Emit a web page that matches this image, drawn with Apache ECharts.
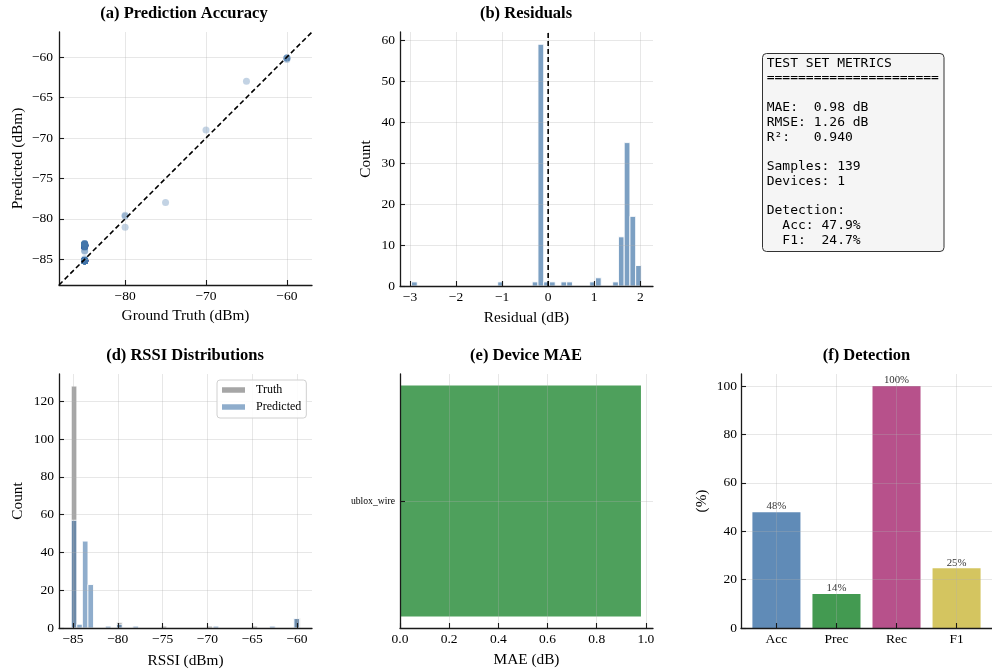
<!DOCTYPE html>
<html>
<head>
<meta charset="utf-8">
<script src="https://cdn.jsdelivr.net/npm/echarts@6/dist/echarts.min.js"></script>
<style>
  html, body { margin: 0; padding: 0; background: #fff; }
  #chart { width: 992px; height: 671px; }
</style>
</head>
<body>
<div id="chart"></div>
<script>
// ---------- data ----------
// (a) test samples: [ground truth dBm, predicted dBm, number of samples]
const accuracyPoints = [
  [-85, -85.17, 55], [-85, -85.04, 1], [-85, -84.92, 1], [-85, -84.0, 1], [-85, -83.92, 1],
  [-85, -83.54, 1], [-85, -83.42, 12], [-85, -83.30, 33], [-85, -83.26, 2], [-85, -83.17, 17], [-85, -83.05, 4],
  [-80, -79.67, 1], [-80, -79.54, 1], [-80, -81.04, 1],
  [-75, -77.97, 1], [-70, -69.0, 1], [-65, -63.0, 1],
  [-60, -60.12, 4], [-60, -60.30, 1]
];
const accuracyLimits = [-88.17, -56.9];

// (b) residual histogram (predicted - truth)
const residualCenters = [-2.905, -1.033, -0.284, -0.159, -0.035, 0.090, 0.340, 0.465, 0.964, 1.089, 1.463, 1.588, 1.713, 1.838, 1.962];
const residualCounts  = [1, 1, 1, 59, 1, 1, 1, 1, 1, 2, 1, 12, 35, 17, 5];
const residualBinWidth = 0.1248;

// (d) RSSI distributions
const rssiBinWidth = 0.63;
const truthCenters = [-84.88, -79.82, -74.85, -69.75, -64.72, -59.95];
const truthCounts  = [128, 3, 1, 1, 1, 5];
const predCenters  = [-84.88, -84.26, -83.64, -83.02, -81.07, -79.82, -78.0, -69.05, -62.75, -60.05];
const predCounts   = [57, 2, 46, 23, 1, 2, 1, 1, 1, 5];

// (e) per-device MAE
const deviceNames = ['ublox_wire'];
const deviceMae   = [0.98];

// (f) detection metrics (%)
const metricNames  = ['Acc', 'Prec', 'Rec', 'F1'];
const metricValues = [47.9, 14.1, 100, 24.7];

// (c) summary text
const metricsText = [
  'TEST SET METRICS',
  '======================',
  '',
  'MAE:  0.98 dB',
  'RMSE: 1.26 dB',
  'R\u00b2:   0.940',
  '',
  'Samples: 139',
  'Devices: 1',
  '',
  'Detection:',
  '  Acc: 47.9%',
  '  F1:  24.7%'
];

// ---------- styling helpers ----------
const SERIF = '"Liberation Serif", "Times New Roman", serif';
const GRID_COLOR = 'rgba(176,176,176,0.3)';
const minus = v => String(v).replace('-', '\u2212');

function valueAxis(gridIndex, min, max, ticks, extra) {
  const e = extra || {};
  return {
    type: 'value', gridIndex, min, max, z: 3,
    name: e.name || '', nameLocation: 'middle', nameGap: e.nameGap || 24,
    nameTextStyle: { fontFamily: SERIF, fontSize: 15.3, color: '#000' },
    axisLine: { show: true, onZero: false, lineStyle: { color: '#1a1a1a', width: 1.3 } },
    axisTick: { show: true, inside: true, length: 5, customValues: ticks, lineStyle: { color: '#1a1a1a', width: 1.1 } },
    axisLabel: {
      customValues: ticks, margin: e.margin || 4,
      fontFamily: SERIF, fontSize: e.labelSize || 13.5, color: '#000',
      formatter: e.formatter || minus
    },
    splitLine: { show: true, lineStyle: { color: GRID_COLOR, width: 1 } }
  };
}

function histItem(binWidth, fill) {
  return function (params, api) {
    const c = api.value(0), n = api.value(1);
    const p0 = api.coord([c - binWidth / 2, n]);
    const p1 = api.coord([c + binWidth / 2, 0]);
    return {
      type: 'rect',
      shape: { x: p0[0], y: p0[1], width: p1[0] - p0[0], height: p1[1] - p0[1] },
      style: { fill, stroke: '#fff', lineWidth: 0.9 }
    };
  };
}

const scatterData = [];
accuracyPoints.forEach(([t, p, n]) => { for (let k = 0; k < n; k++) scatterData.push([t, p]); });

const metricColors = ['rgba(68,119,170,0.85)', 'rgba(34,136,51,0.85)', 'rgba(170,51,119,0.85)', 'rgba(204,187,68,0.85)'];

function titleText(text, x, y) {
  return {
    type: 'text', x, y, z: 10,
    style: { text, font: 'bold 16.5px ' + SERIF, fill: '#000', align: 'center', verticalAlign: 'middle' }
  };
}

const option = {
  animation: false,
  backgroundColor: '#fff',
  textStyle: { fontFamily: SERIF },
  grid: [
    { left: 59, top: 32, width: 253, height: 253 },      // a
    { left: 400, top: 32, width: 253, height: 254 },     // b
    { left: 59, top: 374, width: 253, height: 254 },     // d
    { left: 400, top: 374, width: 253, height: 254 },    // e
    { left: 741, top: 374, width: 253, height: 254 }     // f
  ],
  xAxis: [
    valueAxis(0, accuracyLimits[0], accuracyLimits[1], [-80, -70, -60], { name: 'Ground Truth (dBm)', nameGap: 23 }),
    valueAxis(1, -3.217, 2.276, [-3, -2, -1, 0, 1, 2], { name: 'Residual (dB)', nameGap: 24 }),
    valueAxis(2, -86.56, -58.33, [-85, -80, -75, -70, -65, -60], { name: 'RSSI (dBm)', nameGap: 25 }),
    valueAxis(3, 0, 1.029, [0, 0.2, 0.4, 0.6, 0.8, 1.0], { name: 'MAE (dB)', nameGap: 24, formatter: v => v.toFixed(1) }),
    valueAxis(4, -0.59, 3.59, [0, 1, 2, 3], { formatter: v => metricNames[Math.round(v)] })
  ],
  yAxis: [
    valueAxis(0, accuracyLimits[0], accuracyLimits[1], [-85, -80, -75, -70, -65, -60], { name: 'Predicted (dBm)', nameGap: 34, margin: 6 }),
    valueAxis(1, 0, 62, [0, 10, 20, 30, 40, 50, 60], { name: 'Count', nameGap: 27, margin: 5 }),
    valueAxis(2, 0, 134.4, [0, 20, 40, 60, 80, 100, 120], { name: 'Count', nameGap: 34, margin: 5 }),
    valueAxis(3, -0.44, 0.44, [0], { margin: 5, labelSize: 9.7, formatter: v => deviceNames[Math.round(v)] }),
    valueAxis(4, 0, 105, [0, 20, 40, 60, 80, 100], { name: '(%)', nameGap: 32, margin: 4 })
  ],
  legend: {
    orient: 'vertical', left: 217, top: 380,
    padding: [4, 5, 5, 5], itemGap: 5, itemWidth: 23, itemHeight: 5.5,
    icon: 'rect',
    data: ['Truth', 'Predicted'],
    textStyle: { fontFamily: SERIF, fontSize: 12, color: '#000', padding: [0, 0, 0, 6] },
    borderColor: '#d0d0d0', borderWidth: 1, borderRadius: 3,
    backgroundColor: 'rgba(255,255,255,0.85)'
  },
  series: [
    // (a) prediction accuracy
    {
      type: 'scatter', xAxisIndex: 0, yAxisIndex: 0, data: scatterData,
      symbolSize: 7, itemStyle: { color: 'rgba(68,119,170,0.4)' }, z: 2
    },
    {
      type: 'line', xAxisIndex: 0, yAxisIndex: 0, z: 5, symbol: 'none',
      data: [[accuracyLimits[0], accuracyLimits[0]], [accuracyLimits[1], accuracyLimits[1]]],
      lineStyle: { color: '#000', width: 1.6, type: [5, 3] }
    },
    // (b) residuals
    {
      type: 'custom', xAxisIndex: 1, yAxisIndex: 1, z: 2,
      data: residualCenters.map((c, i) => [c, residualCounts[i]]),
      encode: { x: 0, y: 1 },
      renderItem: histItem(residualBinWidth, 'rgba(68,119,170,0.7)')
    },
    {
      type: 'line', xAxisIndex: 1, yAxisIndex: 1, z: 5, symbol: 'none',
      data: [[0, 0], [0, 62]],
      lineStyle: { color: '#000', width: 1.6, type: [5, 3] }
    },
    // (d) RSSI distributions
    {
      name: 'Truth', type: 'custom', xAxisIndex: 2, yAxisIndex: 2, z: 2,
      itemStyle: { color: 'rgba(128,128,128,0.7)' },
      data: truthCenters.map((c, i) => [c, truthCounts[i]]),
      encode: { x: 0, y: 1 },
      renderItem: histItem(rssiBinWidth, 'rgba(128,128,128,0.7)')
    },
    {
      name: 'Predicted', type: 'custom', xAxisIndex: 2, yAxisIndex: 2, z: 2,
      itemStyle: { color: 'rgba(68,119,170,0.6)' },
      data: predCenters.map((c, i) => [c, predCounts[i]]),
      encode: { x: 0, y: 1 },
      renderItem: histItem(rssiBinWidth, 'rgba(68,119,170,0.6)')
    },
    // (e) device MAE
    {
      type: 'custom', xAxisIndex: 3, yAxisIndex: 3, z: 2,
      data: deviceMae.map((v, i) => [v, i]),
      encode: { x: 0, y: 1 },
      renderItem: function (params, api) {
        const v = api.value(0), i = api.value(1);
        const p0 = api.coord([0, i + 0.4]);
        const p1 = api.coord([v, i - 0.4]);
        return {
          type: 'rect',
          shape: { x: p0[0], y: p0[1], width: p1[0] - p0[0], height: p1[1] - p0[1] },
          style: { fill: 'rgba(34,136,51,0.8)' }
        };
      }
    },
    // (f) detection
    {
      type: 'custom', xAxisIndex: 4, yAxisIndex: 4, z: 2,
      data: metricValues.map((v, i) => [i, v]),
      encode: { x: 0, y: 1 },
      renderItem: function (params, api) {
        const i = api.value(0), v = api.value(1);
        const p0 = api.coord([i - 0.4, v]);
        const p1 = api.coord([i + 0.4, 0]);
        return {
          type: 'group',
          children: [
            {
              type: 'rect',
              shape: { x: p0[0], y: p0[1], width: p1[0] - p0[0], height: p1[1] - p0[1] },
              style: { fill: metricColors[i] }
            },
            {
              type: 'text', x: (p0[0] + p1[0]) / 2, y: p0[1],
              style: {
                text: Math.round(v) + '%', font: '10.8px ' + SERIF, fill: '#333',
                align: 'center', verticalAlign: 'bottom'
              }
            }
          ]
        };
      }
    }
  ],
  graphic: [
    titleText('(a) Prediction Accuracy', 184, 13.5),
    titleText('(b) Residuals', 526, 13.5),
    titleText('(d) RSSI Distributions', 185, 356),
    titleText('(e) Device MAE', 526, 356),
    titleText('(f) Detection', 866.5, 356),
    {
      type: 'rect', z: 10,
      shape: { x: 762.5, y: 53.5, width: 181.5, height: 198, r: 4 },
      style: { fill: '#f5f5f5', stroke: '#333', lineWidth: 1 }
    },
    {
      type: 'text', x: 766.7, y: 55.9, z: 11,
      style: {
        text: metricsText.join('\n'),
        font: '13px "DejaVu Sans Mono", monospace',
        lineHeight: 14.78, fill: '#000', align: 'left', verticalAlign: 'top'
      }
    }
  ]
};

const chart = echarts.init(document.getElementById('chart'), null, { renderer: 'canvas' });
chart.setOption(option);
</script>
</body>
</html>
